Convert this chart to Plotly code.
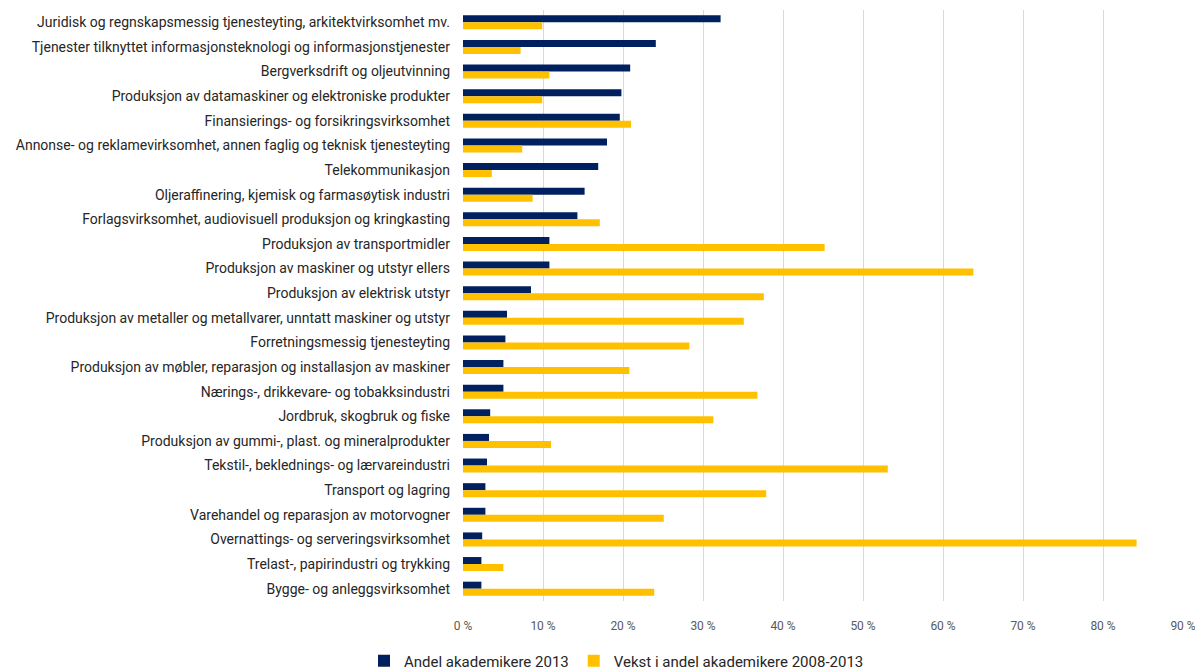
import plotly.graph_objects as go

categories = [
    "Juridisk og regnskapsmessig tjenesteyting, arkitektvirksomhet mv.",
    "Tjenester tilknyttet informasjonsteknologi og informasjonstjenester",
    "Bergverksdrift og oljeutvinning",
    "Produksjon av datamaskiner og elektroniske produkter",
    "Finansierings- og forsikringsvirksomhet",
    "Annonse- og reklamevirksomhet, annen faglig og teknisk tjenesteyting",
    "Telekommunikasjon",
    "Oljeraffinering, kjemisk og farmasøytisk industri",
    "Forlagsvirksomhet, audiovisuell produksjon og kringkasting",
    "Produksjon av transportmidler",
    "Produksjon av maskiner og utstyr ellers",
    "Produksjon av elektrisk utstyr",
    "Produksjon av metaller og metallvarer, unntatt maskiner og utstyr",
    "Forretningsmessig tjenesteyting",
    "Produksjon av møbler, reparasjon og installasjon av maskiner",
    "Nærings-, drikkevare- og tobakksindustri",
    "Jordbruk, skogbruk og fiske",
    "Produksjon av gummi-, plast. og mineralprodukter",
    "Tekstil-, beklednings- og lærvareindustri",
    "Transport og lagring",
    "Varehandel og reparasjon av motorvogner",
    "Overnattings- og serveringsvirksomhet",
    "Trelast-, papirindustri og trykking",
    "Bygge- og anleggsvirksomhet",
]

andel_2013 = [32.2, 24.1, 20.9, 19.8, 19.6, 18.0, 16.9, 15.2, 14.3, 10.8, 10.8, 8.5,
              5.5, 5.3, 5.05, 5.05, 3.4, 3.25, 3.0, 2.8, 2.8, 2.4, 2.3, 2.3]
vekst_2008_2013 = [9.9, 7.2, 10.8, 9.9, 21.0, 7.4, 3.6, 8.7, 17.1, 45.2, 63.8, 37.6,
                   35.1, 28.3, 20.8, 36.8, 31.3, 11.0, 53.1, 37.9, 25.1, 84.2, 5.05, 23.9]

series_names = ["Andel akademikere 2013", "Vekst i andel akademikere 2008-2013"]
tick_vals = [0, 10, 20, 30, 40, 50, 60, 70, 80, 90]
tick_text = [f"{v} %" for v in tick_vals]

font_family = "Roboto, sans-serif"

fig = go.Figure()
fig.add_trace(go.Bar(
    y=categories, x=andel_2013, orientation="h", name=series_names[0],
    marker=dict(color="#002060", line=dict(width=0)),
))
fig.add_trace(go.Bar(
    y=categories, x=vekst_2008_2013, orientation="h", name=series_names[1],
    marker=dict(color="#FFC000", line=dict(width=0)),
))

fig.update_layout(
    width=1195, height=671,
    barmode="group", bargap=0.43, bargroupgap=0,
    plot_bgcolor="white", paper_bgcolor="white",
    margin=dict(l=455, r=20, t=2, b=78),
    font=dict(family=font_family, size=14, color="#262626"),
    legend=dict(
        orientation="h", x=-0.1375, xanchor="left", y=-0.1015, yanchor="middle",
        font=dict(size=15, color="#262626"), traceorder="normal",
    ),
    showlegend=True,
)
fig.update_xaxes(
    range=[0, 90], tickvals=tick_vals, ticktext=tick_text,
    showgrid=True, gridcolor="#d9d9d9", gridwidth=1, zeroline=False,
    showline=False, tickfont=dict(size=12, color="#595959"),
    ticklabelstandoff=16, automargin=False,
)
fig.update_yaxes(
    autorange="reversed", showgrid=False, showline=False, zeroline=False,
    tickfont=dict(size=14, color="#262626"), ticklabelstandoff=12,
    automargin=False,
)

fig.write_html("out.html")
